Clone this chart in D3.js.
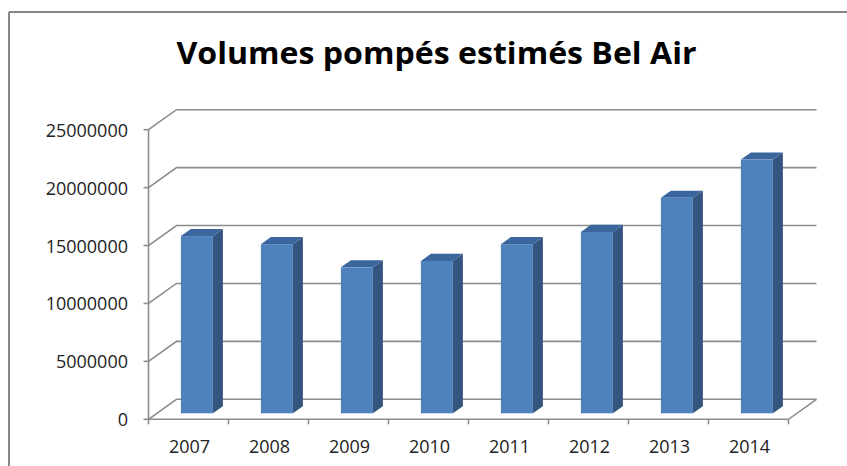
<!DOCTYPE html>
<html>
<head>
<meta charset="utf-8">
<script src="https://cdn.jsdelivr.net/npm/d3@7"></script>
<style>
  html, body { margin: 0; padding: 0; background: #fff; }
  svg { display: block; }
  text { font-family: "Open Sans", "Noto Sans", sans-serif; fill: #222; }
</style>
</head>
<body>
<svg id="chart" width="847" height="466"></svg>
<script>
// Annual pumped volumes (m3)
const years = ["2007", "2008", "2009", "2010", "2011", "2012", "2013", "2014"];
const volumes = [15300000, 14600000, 12600000, 13150000, 14600000, 15650000, 18600000, 21900000];
const yTickValues = [0, 5000000, 10000000, 15000000, 20000000, 25000000];
const title = "Volumes pompés estimés Bel Air";

const svg = d3.select("#chart");

// Frame
const frame = svg.append("g").attr("stroke", "#878787").attr("stroke-width", 2).attr("fill", "none");
frame.append("line").attr("x1", 9).attr("y1", 12).attr("x2", 847).attr("y2", 12);
frame.append("line").attr("x1", 9).attr("y1", 12).attr("x2", 9).attr("y2", 466);

// Title
svg.append("text")
  .attr("x", 436.5).attr("y", 64)
  .attr("text-anchor", "middle")
  .attr("font-size", 30).attr("font-weight", 700)
  .attr("textLength", 520).attr("lengthAdjust", "spacingAndGlyphs")
  .style("fill", "#000")
  .text(title);

// 3D geometry: front plane origin, depth vector
const x0 = 148.5, floorY = 419.3;
const depthX = 28, depthY = -20;
const off = t => [depthX * t, depthY * t];

const x = d3.scaleBand().domain(years).range([x0, x0 + 640]).paddingInner(0).paddingOuter(0);
const y = d3.scaleLinear().domain([0, 25000000]).range([floorY, floorY - 289.6]);

const grid = svg.append("g").attr("stroke", "#8c8c8c").attr("stroke-width", 1.6).attr("fill", "none");

// Back wall gridlines with side-wall diagonals
yTickValues.forEach(v => {
  const yy = y(v);
  grid.append("path").attr("d",
    `M${x0},${yy} L${x0 + depthX},${yy + depthY} L${x0 + 640 + depthX},${yy + depthY}`);
});
// Floor front edge and right diagonal
grid.append("path").attr("d",
  `M${x0},${floorY} L${x0 + 640},${floorY} L${x0 + 640 + depthX},${floorY + depthY}`);
// Front value axis
grid.append("line").attr("x1", x0).attr("x2", x0).attr("y1", y(25000000)).attr("y2", floorY);
// Value axis ticks
yTickValues.forEach(v => {
  grid.append("line").attr("x1", x0 - 5).attr("x2", x0).attr("y1", y(v)).attr("y2", y(v));
});
// Category ticks
d3.range(years.length + 1).forEach(i => {
  const xx = x0 + i * x.bandwidth();
  grid.append("line").attr("x1", xx).attr("x2", xx).attr("y1", floorY).attr("y2", floorY + 5);
});

// Value axis labels
svg.append("g").selectAll("text").data(yTickValues).join("text")
  .attr("x", 128).attr("y", d => y(d) + 7)
  .attr("text-anchor", "end")
  .attr("font-size", 18)
  .text(d => d3.format("d")(d));

// Category labels
svg.append("g").selectAll("text").data(years).join("text")
  .attr("x", d => x(d) + x.bandwidth() / 2 + 1).attr("y", 453)
  .attr("text-anchor", "middle")
  .attr("font-size", 18)
  .text(d => d);

// 3D bars
const barW = 32;
const tFront = 0.3, tBack = 0.657;
const [fx, fy] = off(tFront);
const [bx, by] = off(tBack);
const sdx = bx - fx, sdy = by - fy;

const bars = svg.append("g").selectAll("g").data(years.map((yr, i) => ({ yr, v: volumes[i] }))).join("g");

bars.each(function(d) {
  const g = d3.select(this);
  const left = x(d.yr) + (x.bandwidth() - barW) / 2 + fx;
  const right = left + barW;
  const bottom = y(0) + fy;
  const top = y(d.v) + fy;
  // side face
  g.append("path")
    .attr("d", `M${right},${top} L${right + sdx},${top + sdy} L${right + sdx},${bottom + sdy} L${right},${bottom} Z`)
    .attr("fill", "#34557f");
  // top face
  g.append("path")
    .attr("d", `M${left},${top} L${left + sdx},${top + sdy} L${right + sdx},${top + sdy} L${right},${top} Z`)
    .attr("fill", "#3b659d");
  // front face
  g.append("rect")
    .attr("x", left).attr("y", top)
    .attr("width", barW).attr("height", bottom - top)
    .attr("fill", "#4f81bd");
});
</script>
</body>
</html>
